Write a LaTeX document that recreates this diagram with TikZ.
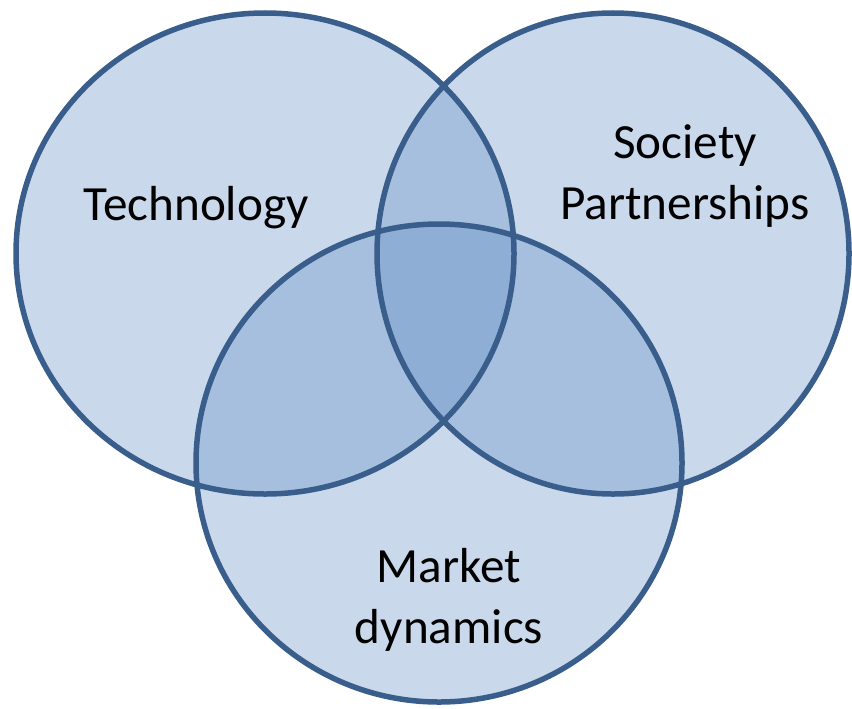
\documentclass[tikz,border=0pt]{standalone}
\usepackage{fontspec}
\setmainfont{Carlito}
\usetikzlibrary{positioning}
\definecolor{vennfill}{RGB}{101,144,198}
\definecolor{vennline}{RGB}{58,94,140}

\tikzset{
  setfill/.style={fill=vennfill, fill opacity=0.35},
  setline/.style={draw=vennline, line width=0.11cm},
  setlabel/.style={align=center, anchor=base, font=\fontsize{28}{34.7}\selectfont}
}

\begin{document}
\begin{tikzpicture}
\useasboundingbox (0,0) rectangle (17.04,14.16);

% fills first, so the overlaps darken
\fill[setfill] (5.30,9.09) ellipse [x radius=4.98, y radius=4.81];
\fill[setfill] (12.26,9.09) ellipse [x radius=4.72, y radius=4.81];
\fill[setfill] (8.78,4.90) ellipse [x radius=4.86, y radius=4.78];

% outlines on top
\draw[setline] (5.30,9.09) ellipse [x radius=4.98, y radius=4.81];
\draw[setline] (12.26,9.09) ellipse [x radius=4.72, y radius=4.81];
\draw[setline] (8.78,4.90) ellipse [x radius=4.86, y radius=4.78];

\node[setlabel] (tech) at (3.92,9.76) {Technology};
\node[setlabel] (society) at (13.70,9.78) {Society\\Partnerships};
\node[setlabel] (market) at (8.98,1.30) {Market\\dynamics};
\end{tikzpicture}
\end{document}
